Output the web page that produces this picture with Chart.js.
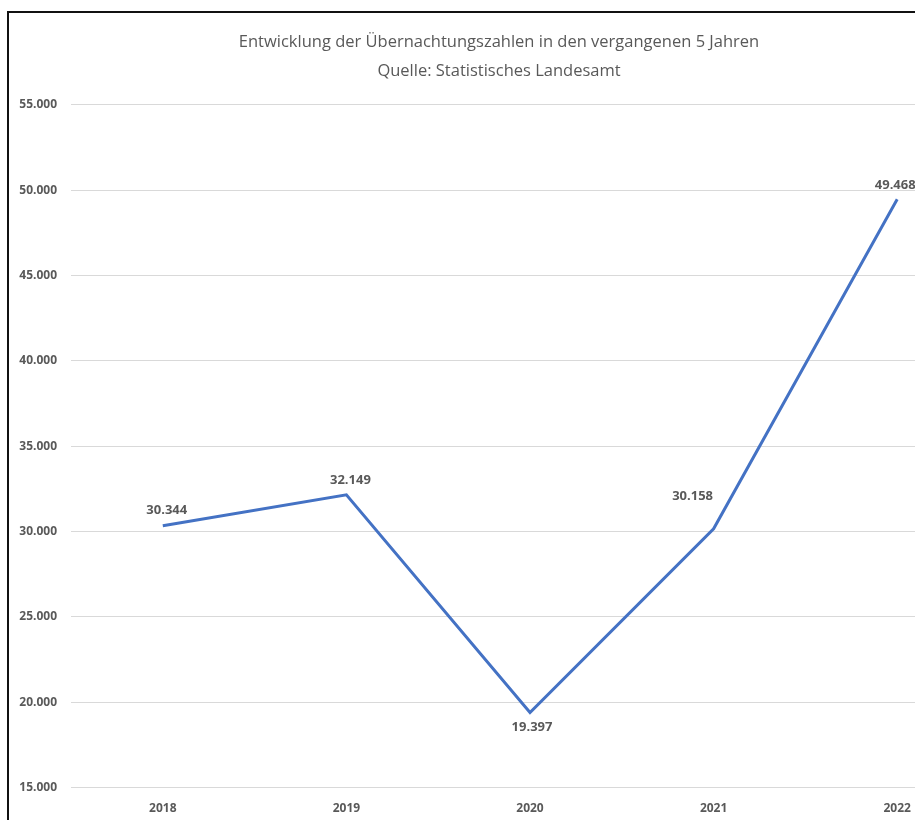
<!DOCTYPE html>
<html lang="de">
<head>
<meta charset="utf-8">
<title>Übernachtungszahlen</title>
<script src="https://cdn.jsdelivr.net/npm/chart.js@4.4.1/dist/chart.umd.min.js"></script>
<style>
  html, body { margin: 0; padding: 0; background: #fff; overflow: hidden; }
  #frame {
    position: absolute; left: 7px; top: 11px;
    border-left: 2px solid #111; border-top: 2px solid #111;
    width: 1000px; height: 830px;
  }
  #chart { display: block; }
</style>
</head>
<body>
<div id="frame"><canvas id="chart" width="1000" height="820"></canvas></div>
<script>
// Daten
const jahre = ['2018', '2019', '2020', '2021', '2022'];
const uebernachtungen = [30344, 32149, 19397, 30158, 49468];
const yMin = 15000;
const yMax = 55000;
const yStep = 5000;

const titelZeilen = [
  'Entwicklung der Übernachtungszahlen in den vergangenen 5 Jahren',
  'Quelle: Statistisches Landesamt'
];

const grau = '#595959';
const fmt = v => v.toLocaleString('de-DE');

// Datenbeschriftungen (wie Excel)
const labelPlugin = {
  id: 'wertLabels',
  afterDatasetsDraw(chart, args, opts) {
    const { ctx } = chart;
    const meta = chart.getDatasetMeta(0);
    ctx.save();
    ctx.font = 'bold 13px "Open Sans", sans-serif';
    ctx.fillStyle = grau;
    ctx.textAlign = 'center';
    ctx.textBaseline = 'middle';
    meta.data.forEach((pt, i) => {
      const pos = opts.lage[i] || 'oben';
      let dx = 4, dy = -15;
      if (pos === 'unten') { dx = 2; dy = 15; }
      if (pos === 'obenLinks') { dx = -21; dy = -33; }
      if (pos === 'obenEnde') { dx = -2; dy = -14; }
      ctx.fillText(fmt(chart.data.datasets[0].data[i]), pt.x + dx, pt.y + dy);
    });
    ctx.restore();
  }
};

new Chart(document.getElementById('chart'), {
  type: 'line',
  data: {
    labels: jahre,
    datasets: [{
      label: 'Übernachtungen',
      data: uebernachtungen,
      borderColor: '#4472C4',
      borderWidth: 3,
      pointRadius: 0,
      tension: 0,
      fill: false
    }]
  },
  options: {
    responsive: false,
    animation: false,
    layout: { padding: { left: 0, right: 20, top: 0, bottom: 3 } },
    plugins: {
      legend: { display: false },
      tooltip: { enabled: false },
      title: {
        display: true,
        text: titelZeilen,
        color: grau,
        font: { family: '"Open Sans", sans-serif', size: 16.5, weight: 'normal', lineHeight: 1.75 },
        padding: { top: 15, bottom: 19 }
      },
      wertLabels: { lage: ['oben', 'oben', 'unten', 'obenLinks', 'obenEnde'] }
    },
    scales: {
      x: {
        offset: true,
        grid: { display: false, drawTicks: false },
        border: { display: false },
        ticks: {
          color: grau,
          padding: 14,
          font: { family: '"Open Sans", sans-serif', size: 12, weight: 'bold' }
        }
      },
      y: {
        min: yMin,
        max: yMax,
        afterFit: s => { s.width = 62; },
        grid: { color: '#d9d9d9', lineWidth: 1, drawTicks: false },
        border: { display: false },
        ticks: {
          stepSize: yStep,
          color: grau,
          padding: 14,
          font: { family: '"Open Sans", sans-serif', size: 12, weight: 'bold' },
          callback: v => fmt(v)
        }
      }
    }
  },
  plugins: [labelPlugin]
});
</script>
</body>
</html>
